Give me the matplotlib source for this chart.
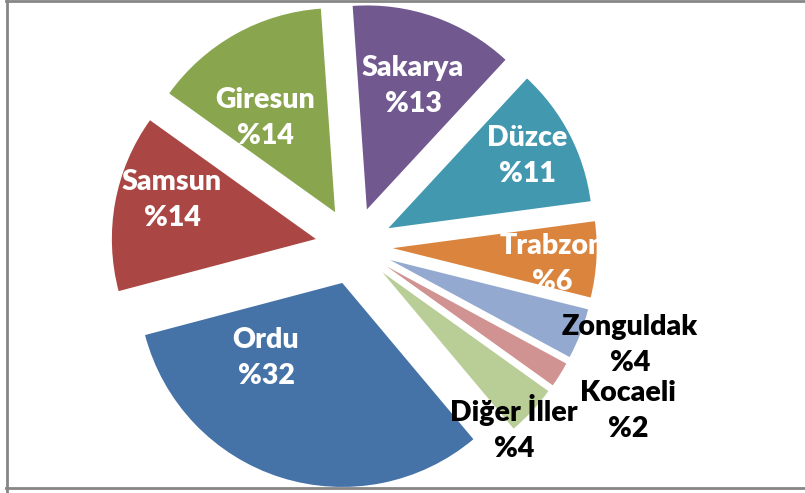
import matplotlib
matplotlib.use('Agg')
import matplotlib.pyplot as plt
from matplotlib.lines import Line2D

# ─── DATOS ─────────────────────────────────────────────
iller = ["Sakarya", "Düzce", "Trabzon", "Zonguldak", "Kocaeli",
         "Diğer İller", "Ordu", "Samsun", "Giresun"]
yuzde = [13, 11, 6, 4, 2, 4, 32, 14, 14]
renkler = ["#71588F", "#4198AF", "#DB843D", "#93A9CF", "#D19392",
           "#B9CD96", "#4572A7", "#AA4643", "#89A54E"]

# ─── LAYOUT (pixeles) ──────────────────────────────────
W, H = 805, 493
cx, cy, r = 354, 246, 204          # centro y radio de la torta
patlama = 0.19
# centro de cada etiqueta (px)
etiqueta_px = [(413, 86), (527, 156), (552, 264), (630, 345), (628, 411),
               (514, 428), (266, 358), (172, 200), (265, 118)]
color_texto = ["white"] * 3 + ["black"] * 3 + ["white"] * 3


def px2data(x, y):
    return (x - cx) / r, (cy - y) / r


fig = plt.figure(figsize=(W / 100, H / 100), dpi=100)
ax = fig.add_axes([0, 0, 1, 1])

ax.pie(yuzde, colors=renkler, startangle=94, counterclock=False,
       explode=[patlama] * len(yuzde), radius=1, center=(0, 0),
       wedgeprops=dict(linewidth=0))

ax.set_xlim(-cx / r, (W - cx) / r)
ax.set_ylim(-(H - cy) / r, cy / r)
ax.set_aspect('auto')
ax.axis('off')

for il, y, (px, py), c in zip(iller, yuzde, etiqueta_px, color_texto):
    x, yy = px2data(px, py)
    ax.text(x, yy, f"{il}\n%{y}", ha="center", va="center",
            fontsize=20.5, fontweight="heavy", color=c,
            family=["Lato", "DejaVu Sans"], linespacing=1.5)

# marco gris
gris = "#868686"
fig.add_artist(Line2D([7 / W, 7 / W], [0 / H, 1 - 0.5 / H], color=gris, lw=2,
                      transform=fig.transFigure))
fig.add_artist(Line2D([6 / W, 1], [1 - 0.8 / H, 1 - 0.8 / H], color=gris, lw=2,
                      transform=fig.transFigure))
fig.add_artist(Line2D([6 / W, 1], [1 - 488 / H, 1 - 488 / H], color=gris, lw=2,
                      transform=fig.transFigure))

fig.savefig("out.png", dpi=100)
plt.close()
